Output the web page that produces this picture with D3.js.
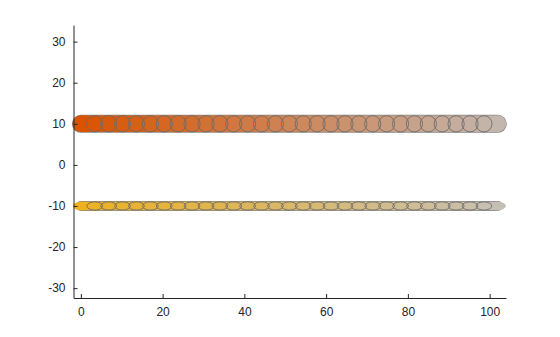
<!DOCTYPE html>
<html>
<head>
<meta charset="utf-8">
<script src="https://cdn.jsdelivr.net/npm/d3@7"></script>
<style>
  body { margin: 0; background: #fff; }
  text { font-family: "Liberation Sans", Arial, sans-serif; }
</style>
</head>
<body>
<svg id="chart" width="560" height="337"></svg>
<script>
// data
var xValues = [0, 3.4, 6.8, 10.2, 13.6, 17, 20.4, 23.8, 27.2, 30.6, 34, 37.4, 40.8, 44.2, 47.6, 51,
               54.4, 57.8, 61.2, 64.6, 68, 71.4, 74.8, 78.2, 81.6, 85, 88.4, 91.8, 95.2, 98.6, 102];
var topY = 10;
var bottomY = -10;
var xTicks = [0, 20, 40, 60, 80, 100];
var yTicks = [-30, -20, -10, 0, 10, 20, 30];

var series = [
  { id: "top", y: topY, rx: 8.6, ry: 8.6, from: "#d95300", to: "#c3b6ad" },
  { id: "bottom", y: bottomY, rx: 8.4, ry: 4.6, from: "#edb020", to: "#c6c0b4" }
];

var MARGIN = { left: 73.5, right: 54, top: 25, bottom: 39 };
var width = 560, height = 337;

var svg = d3.select( "#chart" );
var defs = svg.append( "defs" );

var x = d3.scaleLinear()
  .domain( [ -1.8, 104 ] )
  .range( [ MARGIN.left, width - MARGIN.right ] );

var y = d3.scaleLinear()
  .domain( [ -32.4, 34.05 ] )
  .range( [ height - MARGIN.bottom, MARGIN.top ] );

// markers: fills first, outlines after so every overlap shows
series.forEach( function( s ){
  var color = d3.interpolateRgb( s.from, s.to );
  var n = xValues.length;
  var g = svg.append( "g" );
  var x0 = x( xValues[ 0 ] ), x1 = x( xValues[ n - 1 ] );

  var grad = defs.append( "linearGradient" )
    .attr( "id", "grad-" + s.id )
    .attr( "gradientUnits", "userSpaceOnUse" )
    .attr( "x1", x0 ).attr( "x2", x1 )
    .attr( "y1", 0 ).attr( "y2", 0 );
  grad.append( "stop" ).attr( "offset", 0 ).attr( "stop-color", s.from );
  grad.append( "stop" ).attr( "offset", 1 ).attr( "stop-color", s.to );

  // outline and body of the band under the markers
  g.append( "line" )
    .attr( "x1", x0 ).attr( "x2", x1 )
    .attr( "y1", y( s.y ) ).attr( "y2", y( s.y ) )
    .attr( "stroke", "#878787" )
    .attr( "stroke-width", s.ry * 2 + 0.8 )
    .attr( "stroke-linecap", "round" );

  g.append( "line" )
    .attr( "x1", x0 ).attr( "x2", x1 )
    .attr( "y1", y( s.y ) ).attr( "y2", y( s.y ) )
    .attr( "stroke", "url(#grad-" + s.id + ")" )
    .attr( "stroke-width", s.ry * 2 - 0.8 )
    .attr( "stroke-linecap", "round" );

  g.selectAll( ".fill" )
    .data( xValues )
    .enter()
    .append( "ellipse" )
    .attr( "cx", function( d ){ return x( d ); } )
    .attr( "cy", y( s.y ) )
    .attr( "rx", s.rx - 0.4 )
    .attr( "ry", s.ry - 0.4 )
    .attr( "fill", function( d, i ){ return color( i / ( n - 1 ) ); } );

  g.selectAll( ".edge" )
    .data( xValues.slice( 1, n - 1 ) )
    .enter()
    .append( "ellipse" )
    .attr( "cx", function( d ){ return x( d ); } )
    .attr( "cy", y( s.y ) )
    .attr( "rx", s.rx - 0.5 )
    .attr( "ry", s.ry - 0.5 )
    .attr( "fill", "none" )
    .attr( "stroke", "#6a6a6a" )
    .attr( "stroke-opacity", 0.85 )
    .attr( "stroke-width", 1 );
} );

// axes, plain hyphen for negatives
var xAxis = d3.axisBottom( x )
  .tickValues( xTicks )
  .tickFormat( function( d ){ return String( d ); } )
  .tickSizeInner( -4 )
  .tickSizeOuter( 0 )
  .tickPadding( 9 );

var yAxis = d3.axisLeft( y )
  .tickValues( yTicks )
  .tickFormat( function( d ){ return String( d ); } )
  .tickSizeInner( -4 )
  .tickSizeOuter( 0 )
  .tickPadding( 8 );

var gx = svg.append( "g" )
  .attr( "transform", "translate(0," + ( height - MARGIN.bottom ) + ")" )
  .call( xAxis );

var gy = svg.append( "g" )
  .attr( "transform", "translate(" + MARGIN.left + ",0)" )
  .call( yAxis );

[ gx, gy ].forEach( function( g ){
  g.select( ".domain" ).attr( "stroke", "#262626" );
  g.selectAll( ".tick line" ).attr( "stroke", "#262626" );
  g.selectAll( ".tick text" )
    .attr( "fill", "#262626" )
    .style( "font-size", "12px" )
    .style( "font-family", "Liberation Sans, Arial, sans-serif" );
} );
</script>
</body>
</html>
